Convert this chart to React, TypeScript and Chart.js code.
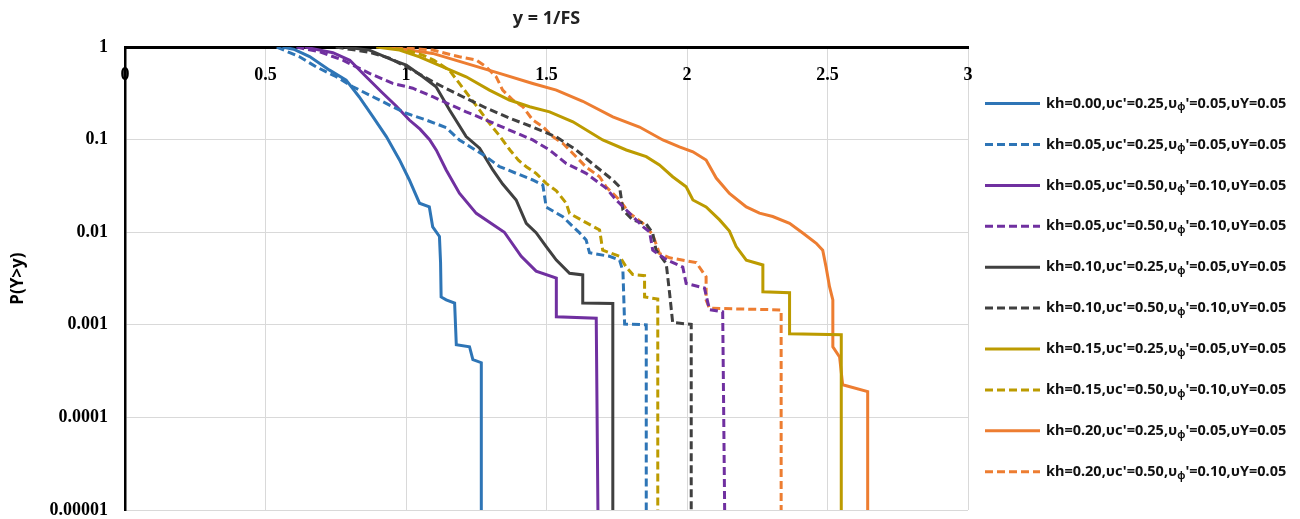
import React, { useEffect, useRef } from 'react';
import { Chart, registerables } from 'chart.js';

Chart.register(...registerables);

const titleText = 'y = 1/FS';
const yAxisTitle = 'P(Y>y)';

const xTickLabels = ['0', '0.5', '1', '1.5', '2', '2.5', '3'];
const yTickValues = [0.00001, 0.0001, 0.001, 0.01, 0.1, 1];
const yTickLabels = ['0.00001', '0.0001', '0.001', '0.01', '0.1', '1'];

const seriesLabels = [
  "kh=0.00,υc'=0.25,υφ'=0.05,υY=0.05",
  "kh=0.05,υc'=0.25,υφ'=0.05,υY=0.05",
  "kh=0.05,υc'=0.50,υφ'=0.10,υY=0.05",
  "kh=0.05,υc'=0.50,υφ'=0.10,υY=0.05",
  "kh=0.10,υc'=0.25,υφ'=0.05,υY=0.05",
  "kh=0.10,υc'=0.50,υφ'=0.10,υY=0.05",
  "kh=0.15,υc'=0.25,υφ'=0.05,υY=0.05",
  "kh=0.15,υc'=0.50,υφ'=0.10,υY=0.05",
  "kh=0.20,υc'=0.25,υφ'=0.05,υY=0.05",
  "kh=0.20,υc'=0.50,υφ'=0.10,υY=0.05",
];

const seriesColors = [
  '#2E75B6', '#2E75B6',
  '#7030A0', '#7030A0',
  '#404040', '#404040',
  '#BC9B00', '#BC9B00',
  '#ED7D31', '#ED7D31',
];

const seriesDashed = [false, true, false, true, false, true, false, true, false, true];

// [y = 1/FS, P(Y>y)]
const blueSolid: [number, number][] = [
  [0.56, 1], [0.6, 0.95], [0.657, 0.79], [0.728, 0.564], [0.787, 0.44], [0.833, 0.291],
  [0.882, 0.177], [0.93, 0.108], [0.977, 0.0604], [1.012, 0.0367], [1.048, 0.0206],
  [1.083, 0.0188], [1.095, 0.0114], [1.119, 0.009], [1.123, 0.0047], [1.125, 0.002],
  [1.143, 0.00186], [1.173, 0.00172], [1.179, 0.00061], [1.226, 0.00058], [1.238, 0.00042],
  [1.268, 0.00039], [1.268, 0.00001],
];

const blueDashed: [number, number][] = [
  [0.54, 1], [0.621, 0.786], [0.68, 0.613], [0.752, 0.478], [0.811, 0.373], [0.882, 0.291],
  [0.953, 0.227], [1.001, 0.193], [1.072, 0.163], [1.143, 0.135], [1.19, 0.0993],
  [1.238, 0.0805], [1.285, 0.0655], [1.333, 0.0512], [1.392, 0.0433], [1.451, 0.0367],
  [1.487, 0.0324], [1.499, 0.0187], [1.558, 0.0147], [1.594, 0.0115], [1.617, 0.0099],
  [1.641, 0.00826], [1.653, 0.006], [1.724, 0.0055], [1.76, 0.005], [1.772, 0.0038],
  [1.778, 0.00102], [1.855, 0.001], [1.855, 0.00001],
];

const purpleSolid: [number, number][] = [
  [0.64, 1], [0.74, 0.87], [0.8, 0.72], [0.852, 0.5], [0.913, 0.327], [0.965, 0.231],
  [1.012, 0.163], [1.05, 0.13], [1.084, 0.1], [1.108, 0.077], [1.143, 0.047], [1.19, 0.0264],
  [1.25, 0.016], [1.35, 0.01], [1.41, 0.0055], [1.463, 0.0038], [1.535, 0.0032],
  [1.535, 0.00122], [1.677, 0.00118], [1.683, 0.00001],
];

const purpleDashed: [number, number][] = [
  [0.61, 1], [0.692, 0.89], [0.775, 0.724], [0.87, 0.52], [0.953, 0.405], [1.024, 0.36],
  [1.095, 0.291], [1.214, 0.2], [1.285, 0.163], [1.368, 0.127], [1.451, 0.0993],
  [1.511, 0.0774], [1.57, 0.0554], [1.641, 0.0433], [1.712, 0.03], [1.748, 0.0223],
  [1.784, 0.0174], [1.843, 0.0115], [1.867, 0.0101], [1.878, 0.0064], [1.93, 0.005],
  [1.985, 0.0042], [1.997, 0.0028], [2.062, 0.0025], [2.08, 0.00146], [2.127, 0.00138],
  [2.134, 0.00001],
];

const graySolid: [number, number][] = [
  [0.78, 1], [0.87, 0.928], [0.953, 0.724], [1.001, 0.639], [1.06, 0.478], [1.107, 0.373],
  [1.155, 0.209], [1.214, 0.108], [1.262, 0.081], [1.309, 0.0471], [1.344, 0.0332],
  [1.392, 0.0223], [1.428, 0.0125], [1.463, 0.0099], [1.499, 0.007], [1.535, 0.005],
  [1.582, 0.0036], [1.629, 0.00346], [1.629, 0.00172], [1.736, 0.0017], [1.736, 0.00001],
];

const grayDashed: [number, number][] = [
  [0.75, 1], [0.87, 0.88], [0.941, 0.76], [1.001, 0.613], [1.107, 0.405], [1.202, 0.291],
  [1.285, 0.22], [1.368, 0.171], [1.451, 0.137], [1.535, 0.107], [1.606, 0.0774],
  [1.665, 0.0545], [1.736, 0.0367], [1.76, 0.031], [1.772, 0.0174], [1.807, 0.0136],
  [1.855, 0.0123], [1.878, 0.0098], [1.89, 0.0064], [1.926, 0.0046], [1.938, 0.0022],
  [1.949, 0.00106], [2.015, 0.00101], [2.015, 0.00001],
];

const goldSolid: [number, number][] = [
  [0.894, 1], [0.977, 0.928], [1.048, 0.786], [1.131, 0.613], [1.214, 0.478], [1.297, 0.343],
  [1.368, 0.268], [1.44, 0.227], [1.511, 0.2], [1.594, 0.156], [1.7, 0.0993], [1.784, 0.0774],
  [1.855, 0.0655], [1.902, 0.0533], [1.949, 0.0398], [1.997, 0.031], [2.021, 0.0223],
  [2.068, 0.0188], [2.116, 0.0136], [2.151, 0.0103], [2.175, 0.007], [2.211, 0.005],
  [2.27, 0.00443], [2.27, 0.00228], [2.365, 0.00222], [2.365, 0.0008], [2.549, 0.00078],
  [2.549, 0.00001],
];

const goldDashed: [number, number][] = [
  [0.92, 1], [1.0, 0.93], [1.06, 0.82], [1.1, 0.72], [1.155, 0.56], [1.19, 0.405],
  [1.226, 0.291], [1.262, 0.209], [1.297, 0.15], [1.333, 0.11], [1.37, 0.0774], [1.4, 0.06],
  [1.428, 0.051], [1.463, 0.0433], [1.499, 0.0337], [1.535, 0.028], [1.57, 0.0206],
  [1.582, 0.016], [1.641, 0.0127], [1.689, 0.0106], [1.7, 0.0064], [1.76, 0.0055],
  [1.784, 0.0042], [1.807, 0.0035], [1.849, 0.0034], [1.849, 0.002], [1.896, 0.0019],
  [1.896, 0.00001],
];

const orangeSolid: [number, number][] = [
  [0.94, 1], [1.095, 0.855], [1.214, 0.667], [1.333, 0.52], [1.451, 0.405], [1.535, 0.343],
  [1.629, 0.26], [1.736, 0.176], [1.831, 0.137], [1.914, 0.0993], [1.973, 0.0838],
  [2.021, 0.0739], [2.068, 0.0604], [2.104, 0.0385], [2.151, 0.0263], [2.211, 0.0188],
  [2.258, 0.0161], [2.305, 0.0148], [2.365, 0.0125], [2.412, 0.0098], [2.46, 0.0076],
  [2.483, 0.0064], [2.495, 0.0042], [2.507, 0.0026], [2.519, 0.00186], [2.519, 0.00058],
  [2.543, 0.00045], [2.554, 0.000225], [2.643, 0.00019], [2.643, 0.00001],
];

const orangeDashed: [number, number][] = [
  [0.96, 1], [1.095, 0.928], [1.19, 0.786], [1.25, 0.724], [1.285, 0.613], [1.321, 0.478],
  [1.344, 0.343], [1.38, 0.268], [1.416, 0.227], [1.451, 0.163], [1.487, 0.138],
  [1.522, 0.108], [1.558, 0.0914], [1.594, 0.071], [1.641, 0.0506], [1.689, 0.0398],
  [1.712, 0.031], [1.76, 0.0223], [1.795, 0.0161], [1.843, 0.0125], [1.878, 0.0094],
  [1.902, 0.0059], [1.938, 0.0053], [2.033, 0.0047], [2.068, 0.0033], [2.068, 0.00186],
  [2.08, 0.00151], [2.335, 0.00145], [2.335, 0.00001],
];

const seriesData = [
  blueSolid, blueDashed, purpleSolid, purpleDashed, graySolid,
  grayDashed, goldSolid, goldDashed, orangeSolid, orangeDashed,
];

const SANS = '"Noto Sans", "DejaVu Sans", sans-serif';
const SERIF = '"Liberation Serif", "Times New Roman", serif';

const sideLegend = {
  id: 'sideLegend',
  afterDraw(chart: any) {
    const ctx = chart.ctx as CanvasRenderingContext2D;
    const ca = chart.chartArea;
    const x0 = ca.right + 17;
    const lineLen = 55;
    const y0 = ca.top + 56.5;
    const dy = 40.9;
    const mainFont = `bold 14.5px ${SANS}`;
    const subFont = `bold 10px ${SANS}`;
    chart.data.datasets.forEach((ds: any, i: number) => {
      const y = y0 + i * dy;
      ctx.save();
      ctx.strokeStyle = ds.borderColor;
      ctx.lineWidth = 3;
      ctx.setLineDash(ds.borderDash || []);
      ctx.beginPath();
      ctx.moveTo(x0, y);
      ctx.lineTo(x0 + lineLen, y);
      ctx.stroke();
      ctx.setLineDash([]);
      const label: string = ds.label;
      const idx = label.indexOf('υφ');
      const pre = label.slice(0, idx + 1);
      const sub = 'φ';
      const post = label.slice(idx + 2);
      ctx.fillStyle = '#111';
      ctx.textBaseline = 'middle';
      ctx.textAlign = 'left';
      let tx = x0 + lineLen + 6;
      ctx.font = mainFont;
      ctx.fillText(pre, tx, y);
      tx += ctx.measureText(pre).width;
      ctx.font = subFont;
      ctx.fillText(sub, tx, y + 4);
      tx += ctx.measureText(sub).width;
      ctx.font = mainFont;
      ctx.fillText(post, tx, y);
      ctx.restore();
    });
  },
};

export default function App() {
  const canvasRef = useRef<HTMLCanvasElement | null>(null);

  useEffect(() => {
    document.body.style.overflow = 'hidden';
    const canvas = canvasRef.current;
    if (!canvas) return;
    const chart = new Chart(canvas, {
      type: 'line',
      data: {
        datasets: seriesData.map((d, i) => ({
          label: seriesLabels[i],
          data: d.map(([x, y]) => ({ x, y })),
          borderColor: seriesColors[i],
          backgroundColor: seriesColors[i],
          borderWidth: 3,
          borderDash: seriesDashed[i] ? [8, 4] : [],
          pointRadius: 0,
          fill: false,
          tension: 0,
        })),
      },
      options: {
        animation: false,
        responsive: true,
        maintainAspectRatio: false,
        layout: { padding: { left: 0, right: 324, top: 0, bottom: 9 } },
        plugins: {
          legend: { display: false },
          tooltip: { enabled: false },
          title: {
            display: true,
            text: titleText,
            fullSize: false,
            color: '#222',
            font: { family: SANS, size: 18, weight: 'bold', lineHeight: 1.2 },
            padding: { top: 0, bottom: 0.5 },
          },
        },
        scales: {
          x: {
            type: 'linear',
            position: 'top',
            min: 0,
            max: 3,
            ticks: {
              stepSize: 0.5,
              mirror: true,
              padding: 17,
              color: '#000',
              font: { family: SERIF, size: 18, weight: 'bold' },
              callback: (_v: any, i: number) => xTickLabels[i],
            },
            grid: { color: '#d9d9d9', lineWidth: 1, drawTicks: false },
            border: { color: '#000', width: 3 },
            afterFit: (s: any) => { s.height = 17; },
          },
          y: {
            type: 'logarithmic',
            min: 0.00001,
            max: 1,
            afterBuildTicks: (s: any) => { s.ticks = yTickValues.map((v) => ({ value: v })); },
            ticks: {
              padding: 17,
              color: '#000',
              font: { family: SERIF, size: 18, weight: 'bold' },
              callback: (_v: any, i: number) => yTickLabels[i],
            },
            grid: { color: '#d9d9d9', lineWidth: 1, drawTicks: false },
            border: { color: '#000', width: 2.5 },
            title: {
              display: true,
              text: yAxisTitle,
              color: '#000',
              font: { family: SANS, size: 17, weight: 'bold' },
              padding: { top: 0, bottom: 0 },
            },
            afterFit: (s: any) => { s.width = 117; s.paddingTop = 0; s.paddingBottom = 0; },
          },
        },
      },
      plugins: [sideLegend],
    });
    return () => chart.destroy();
  }, []);

  return (
    <div style={{ position: 'fixed', left: 8, top: 8, width: 1284, height: 511 }}>
      <canvas ref={canvasRef} />
    </div>
  );
}
